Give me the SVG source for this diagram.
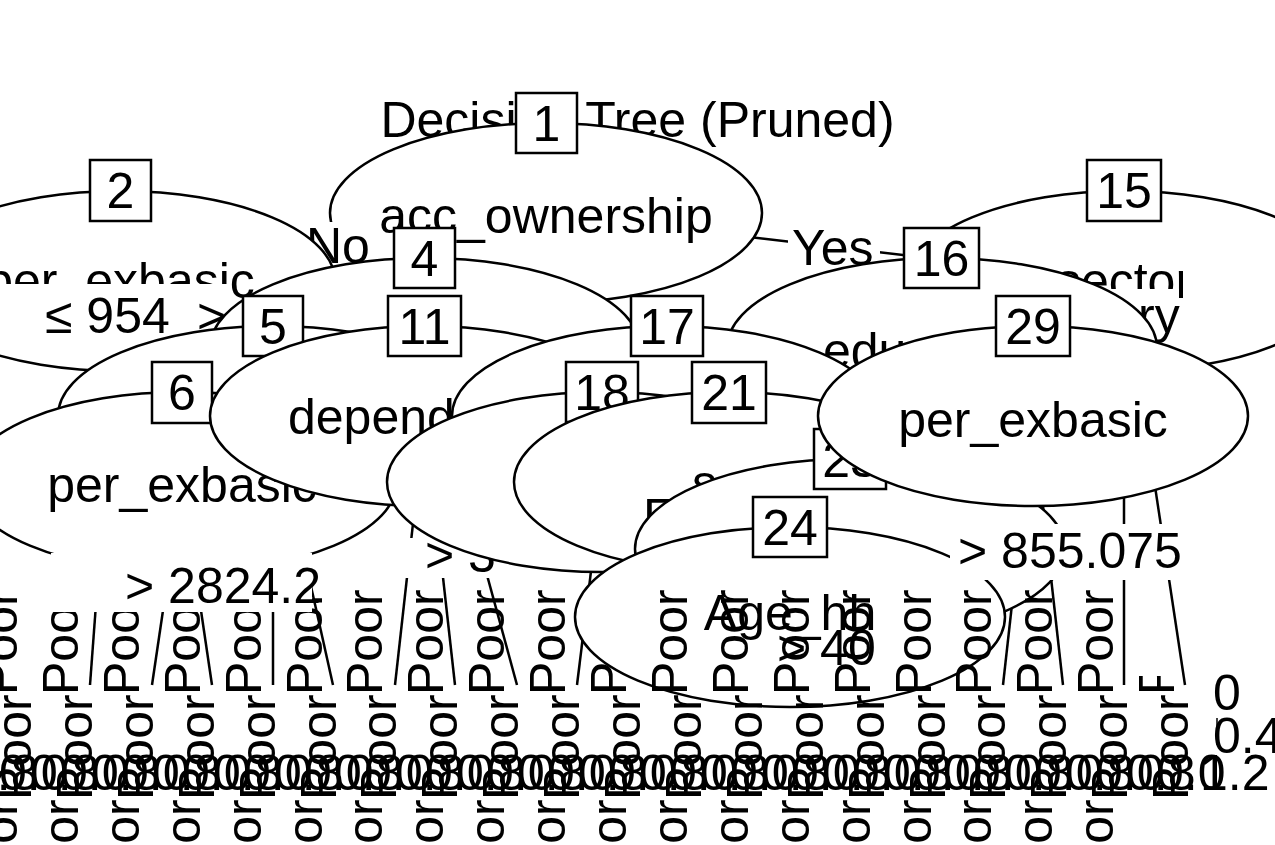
<svg xmlns="http://www.w3.org/2000/svg" width="1275" height="845" viewBox="0 0 1275 845">
<defs>
<style>
.e{fill:#fff;stroke:#000;stroke-width:2.5}
.b{fill:#fff;stroke:#000;stroke-width:2.5}
.t{font-family:"Liberation Sans",Arial,sans-serif;font-size:50px;fill:#000}
.c{text-anchor:middle}
.bg{fill:#fff;stroke:none}
.ln{stroke:#000;stroke-width:2.5;fill:none}
</style>
<clipPath id="c15"><rect x="900" y="200" width="283" height="160"/></clipPath>
<clipPath id="c19"><rect x="1130" y="676" width="80" height="30"/></clipPath>
</defs>
<rect width="1275" height="845" fill="#fff"/>
<g id="connectors">
<line class="ln" x1="546" y1="213" x2="120" y2="281"/>
<line class="ln" x1="546" y1="213" x2="1124" y2="281"/>
<line class="ln" x1="120" y1="281" x2="90" y2="685"/>
<line class="ln" x1="425" y1="348" x2="517" y2="685"/>
<line class="ln" x1="273" y1="416" x2="273" y2="685"/>
<line class="ln" x1="273" y1="416" x2="333" y2="685"/>
<line class="ln" x1="182" y1="482" x2="152" y2="685"/>
<line class="ln" x1="182" y1="482" x2="212" y2="685"/>
<line class="ln" x1="425" y1="416" x2="395" y2="685"/>
<line class="ln" x1="425" y1="416" x2="455" y2="685"/>
<line class="ln" x1="602" y1="482" x2="577" y2="685"/>
<line class="ln" x1="1033" y1="416" x2="1003" y2="685"/>
<line class="ln" x1="1033" y1="416" x2="1063" y2="685"/>
<line class="ln" x1="1124" y1="281" x2="1124" y2="685"/>
<line class="ln" x1="1124" y1="281" x2="1185" y2="685"/>
</g>
<text x="637.5" y="137" class="t c">Decision Tree (Pruned)</text>
<g id="node1">
<ellipse cx="546" cy="213" rx="216" ry="90" class="e"/>
<text x="546" y="233" class="t c">acc_ownership</text>
<rect x="516" y="93" width="61" height="60" class="b"/>
<text x="546.5" y="141" class="t c">1</text>
</g>
<g id="label-no"><rect x="300" y="222" width="72" height="46" class="bg"/><text x="306" y="263" class="t">No</text></g>
<g id="label-yes"><rect x="788" y="224" width="92" height="46" class="bg"/><text x="792" y="265" class="t">Yes</text></g>
<g id="node2">
<ellipse cx="120" cy="281" rx="215" ry="90" class="e"/>
<text x="120" y="298" class="t c">per_exbasic</text>
<rect x="90" y="160" width="61" height="61" class="b"/>
<text x="120.5" y="208" class="t c">2</text>
</g>
<g id="label-954">
<rect x="-5" y="284" width="175" height="58" class="bg"/><text x="45" y="333" class="t">≤ 954</text>
<rect x="170" y="284" width="60" height="58" class="bg"/><text x="197" y="333" class="t">&gt;</text>
</g>
<g id="node4">
<ellipse cx="425" cy="348" rx="215" ry="90" class="e"/>
<rect x="394" y="228" width="61" height="60" class="b"/>
<text x="424.5" y="276" class="t c">4</text>
</g>
<g id="node5">
<ellipse cx="273" cy="416" rx="215" ry="90" class="e"/>
<rect x="243" y="296" width="60" height="60" class="b"/>
<text x="273" y="344" class="t c">5</text>
</g>
<g id="node6">
<ellipse cx="182" cy="482" rx="215" ry="90" class="e"/>
<text x="182" y="502" class="t c">per_exbasic</text>
<rect x="152" y="362" width="60" height="61" class="b"/>
<text x="182" y="410" class="t c">6</text>
</g>
<g id="node11">
<ellipse cx="425" cy="416" rx="215" ry="90" class="e"/>
<text x="288" y="434" class="t">depend</text>
<rect x="388" y="296" width="73" height="60" class="b"/>
<text x="424.5" y="344" class="t c">11</text>
</g>
<g id="label-3"><rect x="398" y="538" width="107" height="40" class="bg"/><text x="425" y="572" class="t">&gt; 3</text></g>
<g id="node15">
<ellipse cx="1124" cy="281" rx="215" ry="90" class="e"/>
<g clip-path="url(#c15)">
<text x="1124" y="298" class="t c">sector</text>
<rect x="1040" y="289" width="139" height="16" class="bg"/>
<text x="1138" y="333" class="t">ry</text>
</g>
<rect x="1087" y="160" width="74" height="61" class="b"/>
<text x="1124" y="208" class="t c">15</text>
</g>
<g id="node16">
<ellipse cx="942" cy="348" rx="215" ry="90" class="e"/>
<text x="823" y="368" class="t">edu</text>
<rect x="904" y="228" width="75" height="60" class="b"/>
<text x="941.5" y="276" class="t c">16</text>
</g>
<g id="node17">
<ellipse cx="667" cy="416" rx="215" ry="90" class="e"/>
<rect x="631" y="296" width="72" height="60" class="b"/>
<text x="667" y="344" class="t c">17</text>
</g>
<g id="node18">
<ellipse cx="602" cy="482" rx="215" ry="90" class="e"/>
<rect x="566" y="362" width="72" height="60" class="b"/>
<text x="602" y="410" class="t c">18</text>
</g>
<g id="node21">
<ellipse cx="729" cy="482" rx="215" ry="90" class="e"/>
<text x="692" y="500" class="t">s</text>
<text x="643" y="534" class="t">E</text>
<rect x="692" y="362" width="74" height="61" class="b"/>
<text x="729" y="410" class="t c">21</text>
</g>
<g id="leaves-a">
<g id="leaf-0"><text class="t" transform="translate(17,695) rotate(-90)">Poor</text><text class="t" transform="translate(31,800) rotate(-90)">Poor</text><text class="t" transform="translate(17,905) rotate(-90)">Poor</text><text x="-31" y="790" class="t">0.8</text><text x="-1" y="790" class="t">0.0</text></g>
<g id="leaf-1"><text class="t" transform="translate(78,695) rotate(-90)">Poor</text><text class="t" transform="translate(92,800) rotate(-90)">Poor</text><text class="t" transform="translate(78,905) rotate(-90)">Poor</text><text x="30" y="790" class="t">0.8</text><text x="60" y="790" class="t">0.0</text></g>
<g id="leaf-2"><text class="t" transform="translate(139,695) rotate(-90)">Poor</text><text class="t" transform="translate(153,800) rotate(-90)">Poor</text><text class="t" transform="translate(139,905) rotate(-90)">Poor</text><text x="91" y="790" class="t">0.8</text><text x="121" y="790" class="t">0.0</text></g>
<g id="leaf-3"><text class="t" transform="translate(200,695) rotate(-90)">Poor</text><text class="t" transform="translate(214,800) rotate(-90)">Poor</text><text class="t" transform="translate(200,905) rotate(-90)">Poor</text><text x="152" y="790" class="t">0.8</text><text x="182" y="790" class="t">0.0</text></g>
<g id="leaf-4"><text class="t" transform="translate(261,695) rotate(-90)">Poor</text><text class="t" transform="translate(275,800) rotate(-90)">Poor</text><text class="t" transform="translate(261,905) rotate(-90)">Poor</text><text x="213" y="790" class="t">0.8</text><text x="243" y="790" class="t">0.0</text></g>
<g id="leaf-5"><text class="t" transform="translate(322,695) rotate(-90)">Poor</text><text class="t" transform="translate(336,800) rotate(-90)">Poor</text><text class="t" transform="translate(322,905) rotate(-90)">Poor</text><text x="274" y="790" class="t">0.8</text><text x="304" y="790" class="t">0.0</text></g>
<g id="leaf-6"><text class="t" transform="translate(382,695) rotate(-90)">Poor</text><text class="t" transform="translate(396,800) rotate(-90)">Poor</text><text class="t" transform="translate(382,905) rotate(-90)">Poor</text><text x="334" y="790" class="t">0.8</text><text x="364" y="790" class="t">0.0</text></g>
<g id="leaf-7"><text class="t" transform="translate(443,695) rotate(-90)">Poor</text><text class="t" transform="translate(457,800) rotate(-90)">Poor</text><text class="t" transform="translate(443,905) rotate(-90)">Poor</text><text x="395" y="790" class="t">0.8</text><text x="425" y="790" class="t">0.0</text></g>
<g id="leaf-8"><text class="t" transform="translate(504,695) rotate(-90)">Poor</text><text class="t" transform="translate(518,800) rotate(-90)">Poor</text><text class="t" transform="translate(504,905) rotate(-90)">Poor</text><text x="456" y="790" class="t">0.8</text><text x="486" y="790" class="t">0.0</text></g>
<g id="leaf-9"><text class="t" transform="translate(565,695) rotate(-90)">Poor</text><text class="t" transform="translate(579,800) rotate(-90)">Poor</text><text class="t" transform="translate(565,905) rotate(-90)">Poor</text><text x="517" y="790" class="t">0.8</text><text x="547" y="790" class="t">0.0</text></g>
<g id="leaf-10"><text class="t" transform="translate(626,695) rotate(-90)">Poor</text><text class="t" transform="translate(640,800) rotate(-90)">Poor</text><text class="t" transform="translate(626,905) rotate(-90)">Poor</text><text x="578" y="790" class="t">0.8</text><text x="608" y="790" class="t">0.0</text></g>
</g>
<g id="label-2824"><rect x="51" y="553" width="261" height="59" class="bg"/><text x="125" y="603" class="t">&gt; 2824.2</text></g>
<g id="node23">
<ellipse cx="850" cy="549" rx="215" ry="90" class="e"/>
<rect x="814" y="429" width="72" height="60" class="b"/>
<text x="850" y="477" class="t c">23</text>
</g>
<g id="node24">
<ellipse cx="790" cy="617" rx="215" ry="90" class="e"/>
<text x="790" y="630" class="t c">Age_hh</text>
<text x="777" y="665" class="t">&gt; 40</text>
<rect x="753" y="497" width="74" height="60" class="b"/>
<text x="790" y="545" class="t c">24</text>
</g>
<g id="node29">
<ellipse cx="1033" cy="416" rx="215" ry="90" class="e"/>
<text x="1033" y="437" class="t c">per_exbasic</text>
<rect x="996" y="296" width="74" height="60" class="b"/>
<text x="1033" y="344" class="t c">29</text>
</g>
<g id="label-855"><rect x="950" y="524" width="235" height="56" class="bg"/><text x="958" y="568" class="t">&gt; 855.075</text></g>
<g id="leaves-b">
<g id="leaf-11"><text class="t" transform="translate(687,695) rotate(-90)">Poor</text><text class="t" transform="translate(701,800) rotate(-90)">Poor</text><text class="t" transform="translate(687,905) rotate(-90)">Poor</text><text x="639" y="790" class="t">0.8</text><text x="669" y="790" class="t">0.0</text></g>
<g id="leaf-12"><text class="t" transform="translate(748,695) rotate(-90)">Poor</text><text class="t" transform="translate(762,800) rotate(-90)">Poor</text><text class="t" transform="translate(748,905) rotate(-90)">Poor</text><text x="700" y="790" class="t">0.8</text><text x="730" y="790" class="t">0.0</text></g>
<g id="leaf-13"><text class="t" transform="translate(809,695) rotate(-90)">Poor</text><text class="t" transform="translate(823,800) rotate(-90)">Poor</text><text class="t" transform="translate(809,905) rotate(-90)">Poor</text><text x="761" y="790" class="t">0.8</text><text x="791" y="790" class="t">0.0</text></g>
<g id="leaf-14"><text class="t" transform="translate(870,695) rotate(-90)">Poor</text><text class="t" transform="translate(884,800) rotate(-90)">Poor</text><text class="t" transform="translate(870,905) rotate(-90)">Poor</text><text x="822" y="790" class="t">0.8</text><text x="852" y="790" class="t">0.0</text></g>
<g id="leaf-15"><text class="t" transform="translate(931,695) rotate(-90)">Poor</text><text class="t" transform="translate(945,800) rotate(-90)">Poor</text><text class="t" transform="translate(931,905) rotate(-90)">Poor</text><text x="883" y="790" class="t">0.8</text><text x="913" y="790" class="t">0.0</text></g>
<g id="leaf-16"><text class="t" transform="translate(991,695) rotate(-90)">Poor</text><text class="t" transform="translate(1005,800) rotate(-90)">Poor</text><text class="t" transform="translate(991,905) rotate(-90)">Poor</text><text x="943" y="790" class="t">0.8</text><text x="973" y="790" class="t">0.0</text></g>
<g id="leaf-17"><text class="t" transform="translate(1052,695) rotate(-90)">Poor</text><text class="t" transform="translate(1066,800) rotate(-90)">Poor</text><text class="t" transform="translate(1052,905) rotate(-90)">Poor</text><text x="1004" y="790" class="t">0.8</text><text x="1034" y="790" class="t">0.0</text></g>
<g id="leaf-18"><text class="t" transform="translate(1113,695) rotate(-90)">Poor</text><text class="t" transform="translate(1127,800) rotate(-90)">Poor</text><text class="t" transform="translate(1113,905) rotate(-90)">Poor</text><text x="1065" y="790" class="t">0.8</text><text x="1095" y="790" class="t">0.0</text></g>
<g id="leaf-19"><g clip-path="url(#c19)"><text class="t" transform="translate(1174,695) rotate(-90)">Poor</text></g><text class="t" transform="translate(1188,800) rotate(-90)">Poor</text><text x="1126" y="790" class="t">0.8</text><text x="1156" y="790" class="t">0.0</text><text x="1200" y="790" class="t">1.2</text></g>
<g id="axis">
<text x="1213" y="710" class="t">0</text>
<text x="1213" y="753" class="t">0.4</text>
<line x1="1217" y1="718" x2="1217" y2="745" stroke="#000" stroke-width="1.5"/>
</g>
</g>
</svg>
